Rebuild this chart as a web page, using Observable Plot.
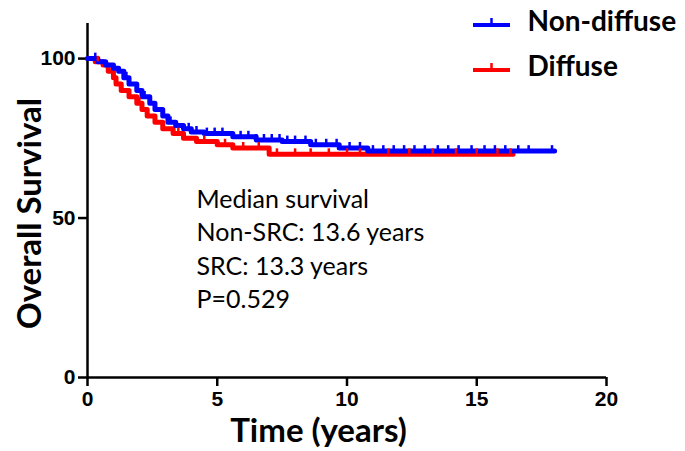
<!DOCTYPE html>
<html><head><meta charset="utf-8">
<script src="https://cdn.jsdelivr.net/npm/d3@7"></script>
<script src="https://cdn.jsdelivr.net/npm/@observablehq/plot@0.6"></script>
<style>body{margin:0;background:#fff}</style>
</head><body><div id="chart"></div>
<script>
// Non-diffuse (blue) step curve: [time, survival %]
const nonDiffuseTimes = [0, 0.4, 0.7, 1.0, 1.2, 1.4, 1.6, 1.9, 2.1, 2.4, 2.6, 2.9, 3.1, 3.4, 3.7, 4.0, 4.5, 5.6, 6.5, 7.5, 8.6, 9.7, 10.8, 18.0];
const nonDiffuseSurv  = [100, 99, 98, 97, 96, 94, 92, 90, 88, 86, 84, 82, 80, 79, 78, 77, 76.5, 75.5, 74.5, 74, 73, 72, 71, 71];
// Diffuse (red)
const diffuseTimes = [0, 0.3, 0.6, 0.8, 1.0, 1.1, 1.3, 1.6, 1.9, 2.1, 2.3, 2.6, 2.9, 3.3, 3.7, 4.2, 5.0, 5.6, 7.0, 16.4];
const diffuseSurv  = [100, 99, 98, 96, 94, 92, 90, 88, 86, 84, 82, 80, 78, 76.5, 75, 74, 73, 72, 70, 70];
// censoring times
const nonDiffuseCensor = [0.3, 1.5, 2.2, 3.2, 3.9, 4.2, 4.6, 4.9, 5.2, 5.9, 6.2, 6.5, 6.8, 7.1, 7.4, 7.7, 8.0, 8.4, 8.8, 9.2, 9.6, 10.1, 10.5, 11.0, 11.4, 11.8, 12.2, 12.6, 13.0, 13.5, 13.9, 14.3, 14.8, 15.3, 15.7, 16.1, 16.6, 17.0, 17.9];
const diffuseCensor = [0.4, 2.0, 3.5, 4.5, 5.3, 6.0, 6.6, 7.3, 8.0, 8.6, 9.3, 10.0, 10.5, 11.6, 12.4, 13.3, 14.2, 15.0, 15.8, 16.3];
const xTicks = [0, 5, 10, 15, 20];
const yTicks = [0, 50, 100];
const seriesNames = ["Non-diffuse", "Diffuse"];
const seriesColors = ["#0000ff", "#ff0000"];
const annotation = ["Median survival", "Non-SRC: 13.6 years", "SRC: 13.3 years", "P=0.529"];
const xLabel = "Time (years)";
const yLabel = "Overall Survival";

const blue = nonDiffuseTimes.map((t, i) => ({t, s: nonDiffuseSurv[i]}));
const red = diffuseTimes.map((t, i) => ({t, s: diffuseSurv[i]}));
function at(curve, t) { let s = curve[0].s; for (const d of curve) if (d.t <= t) s = d.s; return s; }
const blueC = nonDiffuseCensor.map(t => ({t, s: at(blue, t)}));
const redC = diffuseCensor.map(t => ({t, s: at(red, t)}));

const legend = seriesNames.map((name, i) => ({name, color: seriesColors[i], row: i}));

// helper: place text marks at fixed pixel positions (layout only)
const placeAt = (fn) => (index, scales, values, dims, ctx, next) => {
  const g = next(index, scales, values, dims, ctx);
  d3.select(g).selectAll("text").attr("transform", fn);
  return g;
};

const W = 685, H = 451;
const plot = Plot.plot({
  width: W, height: H,
  marginLeft: 87, marginRight: 79, marginTop: 23, marginBottom: 74,
  x: {domain: [0, 20], ticks: xTicks},
  y: {domain: [0, 111], ticks: yTicks},
  style: {fontFamily: "Liberation Sans, Arial, sans-serif", background: "#fff", overflow: "visible"},
  marks: [
    Plot.ruleX([0], {y1: 0, y2: 111, stroke: "#000", strokeWidth: 2.5}),
    Plot.ruleY([0], {x1: 0, x2: 20, stroke: "#000", strokeWidth: 2.5}),
    Plot.axisX({ticks: xTicks, tickSize: 9, tickPadding: 5, strokeWidth: 2.5, fontSize: 21, fontWeight: "bold", label: null, color: "#000"}),
    Plot.axisY({ticks: yTicks, tickSize: 9, tickPadding: 3, strokeWidth: 2.5, fontSize: 21, fontWeight: "bold", label: null, color: "#000"}),
    Plot.line(red, {x: "t", y: "s", curve: "step-after", stroke: seriesColors[1], strokeWidth: 5}),
    Plot.line(blue, {x: "t", y: "s", curve: "step-after", stroke: seriesColors[0], strokeWidth: 5}),
    Plot.ruleX(blueC, {x: "t", y1: "s", y2: d => d.s + 1.7, stroke: seriesColors[0], strokeWidth: 2.5}),
    Plot.ruleX(redC, {x: "t", y1: "s", y2: d => d.s + 1.7, stroke: seriesColors[1], strokeWidth: 2.5}),
    Plot.text(annotation, {text: d => d, frameAnchor: "top-left", fontSize: 25, fontFamily: "Lato", fill: "#000", textAnchor: "start", lineAnchor: "middle",
      render: placeAt((d, j) => `translate(196,${199 + j * 33.5})`)}),
    Plot.text([xLabel], {frameAnchor: "bottom", fontSize: 33, fontWeight: "bold", fontFamily: "Lato", fill: "#000", textAnchor: "middle", lineAnchor: "middle",
      render: placeAt(() => `translate(318,431)`)}),
    Plot.text([yLabel], {frameAnchor: "left", fontSize: 33, fontWeight: "bold", fontFamily: "Lato", fill: "#000", textAnchor: "middle", lineAnchor: "middle",
      render: placeAt(() => `translate(30,213) rotate(-90)`)}),
    // legend
    Plot.text(legend, {text: "name", frameAnchor: "top-left", fontSize: 28, fontWeight: "bold", fontFamily: "Lato", fill: "#000", textAnchor: "start", lineAnchor: "middle",
      render: placeAt((d, j) => `translate(527,${22 + j * 45})`)}),
    Plot.link(legend, {x1: 0, x2: 0, y1: 0, y2: 0, stroke: "color", strokeWidth: 4,
      render: (index) => {
        const g = d3.create("svg:g");
        for (const i of index) {
          const d = legend[i]; const y = 25 + i * 45;
          g.append("line").attr("x1", 473).attr("x2", 510).attr("y1", y).attr("y2", y).attr("stroke", d.color).attr("stroke-width", 4);
          g.append("line").attr("x1", 491.5).attr("x2", 491.5).attr("y1", y).attr("y2", y - 7).attr("stroke", d.color).attr("stroke-width", 2.5);
        }
        return g.node();
      }})
  ]
});
document.getElementById("chart").appendChild(plot);
</script>
</body></html>
